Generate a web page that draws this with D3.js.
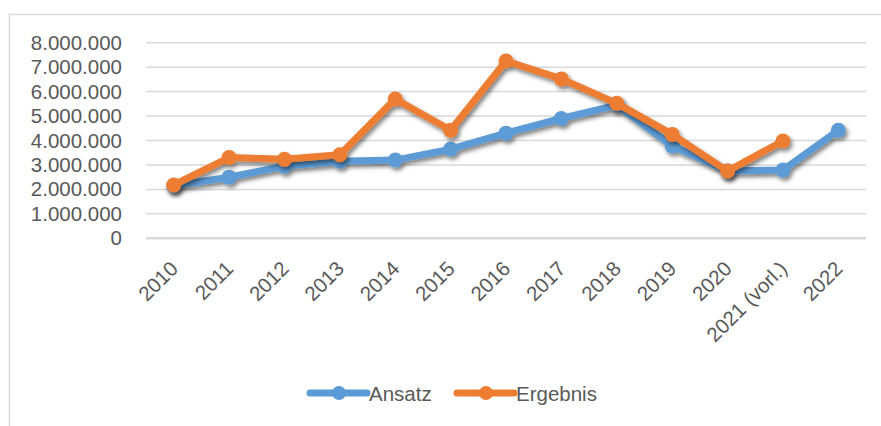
<!DOCTYPE html>
<html>
<head>
<meta charset="utf-8">
<script src="https://cdn.jsdelivr.net/npm/d3@7"></script>
<style>
  body { margin: 0; background: #fff; }
  svg { display: block; font-family: "Liberation Sans", Arial, sans-serif; }
</style>
</head>
<body>
<script>
'use strict';

// categories and series
const years = ["2010", "2011", "2012", "2013", "2014", "2015", "2016", "2017", "2018", "2019", "2020", "2021 (vorl.)", "2022"];
const ansatz = [2150000, 2500000, 2950000, 3150000, 3200000, 3650000, 4300000, 4900000, 5450000, 3780000, 2750000, 2790000, 4420000];
const ergebnis = [2180000, 3300000, 3230000, 3420000, 5700000, 4420000, 7250000, 6520000, 5520000, 4250000, 2750000, 3980000, null];
const yTicks = [0, 1000000, 2000000, 3000000, 4000000, 5000000, 6000000, 7000000, 8000000];

const width = 881, height = 426;
const blue = "#5b9bd5", orange = "#ed7d31";
const labelSize = "20.5px";

let svg = d3.select("body").append("svg")
  .attr("width", width)
  .attr("height", height);

// drop shadow for the lines
let defs = svg.append("defs");
let filter = defs.append("filter").attr("id", "shadow")
  .attr("x", "-10%").attr("y", "-10%").attr("width", "130%").attr("height", "140%");
filter.append("feDropShadow")
  .attr("dx", 2).attr("dy", 3).attr("stdDeviation", 2)
  .attr("flood-color", "#000").attr("flood-opacity", 0.5);

// chart frame (left and top edge only visible)
svg.append("path")
  .attr("d", "M9.5," + height + "V14.5H" + width)
  .attr("fill", "none")
  .attr("stroke", "#d9d9d9")
  .attr("stroke-width", 1.5);

let x = d3.scalePoint()
  .domain(years)
  .range([146, 866])
  .padding(0.5);

let y = d3.scaleLinear()
  .domain([0, 8000000])
  .range([238.3, 42.7]);

// gridlines
svg.append("g").selectAll("line")
  .data(yTicks)
  .enter()
  .append("line")
    .attr("x1", 146)
    .attr("x2", 866)
    .attr("y1", (d) => y(d))
    .attr("y2", (d) => y(d))
    .attr("stroke", "#d9d9d9")
    .attr("stroke-width", (d) => d === 0 ? 2.5 : 1.5);

// y axis labels
let fmt = (v) => d3.format(",")(v).replace(/,/g, ".");
let yAxis = d3.axisLeft(y).tickValues(yTicks).tickFormat(fmt).tickSize(0).tickPadding(0);
let yg = svg.append("g")
  .attr("transform", "translate(122, 0)")
  .call(yAxis);
yg.select(".domain").remove();
yg.selectAll("text")
  .attr("fill", "#595959")
  .style("font-size", labelSize)
  .style("font-family", "Liberation Sans, Arial, sans-serif");

// x axis labels, rotated
let xAxis = d3.axisBottom(x).tickSize(0).tickPadding(0);
let xg = svg.append("g")
  .attr("transform", "translate(0, 238)")
  .call(xAxis);
xg.select(".domain").remove();
xg.selectAll("text")
  .attr("fill", "#595959")
  .style("font-size", labelSize)
  .style("font-family", "Liberation Sans, Arial, sans-serif")
  .attr("text-anchor", "end")
  .attr("y", 0)
  .attr("dy", 0)
  .attr("transform", "translate(5, 32) rotate(-45)");

// series
let series = [
  { name: "Ansatz", values: ansatz, color: blue },
  { name: "Ergebnis", values: ergebnis, color: orange }
];

let line = d3.line()
  .defined((d) => d.v !== null)
  .x((d) => x(d.year))
  .y((d) => y(d.v));

series.forEach((s) => {
  let pts = years.map((yr, i) => ({ year: yr, v: s.values[i] }));
  let g = svg.append("g").attr("filter", "url(#shadow)");
  g.append("path")
    .datum(pts)
    .attr("fill", "none")
    .attr("stroke", s.color)
    .attr("stroke-width", 7)
    .attr("stroke-linejoin", "round")
    .attr("stroke-linecap", "round")
    .attr("d", line);
  g.selectAll("circle")
    .data(pts.filter((d) => d.v !== null))
    .enter()
    .append("circle")
      .attr("cx", (d) => x(d.year))
      .attr("cy", (d) => y(d.v))
      .attr("r", 7.5)
      .attr("fill", s.color);
});

// legend
let legendItems = [
  { name: "Ansatz", color: blue, x0: 310 },
  { name: "Ergebnis", color: orange, x0: 457 }
];
let legend = svg.append("g");
legendItems.forEach((d) => {
  legend.append("line")
    .attr("x1", d.x0).attr("x2", d.x0 + 57)
    .attr("y1", 393).attr("y2", 393)
    .attr("stroke", d.color)
    .attr("stroke-width", 7)
    .attr("stroke-linecap", "round");
  legend.append("circle")
    .attr("cx", d.x0 + 29).attr("cy", 393).attr("r", 7)
    .attr("fill", d.color);
  legend.append("text")
    .attr("x", d.x0 + 59)
    .attr("y", 400.5)
    .attr("fill", "#595959")
    .style("font-size", labelSize)
    .text(d.name);
});
</script>
</body>
</html>
